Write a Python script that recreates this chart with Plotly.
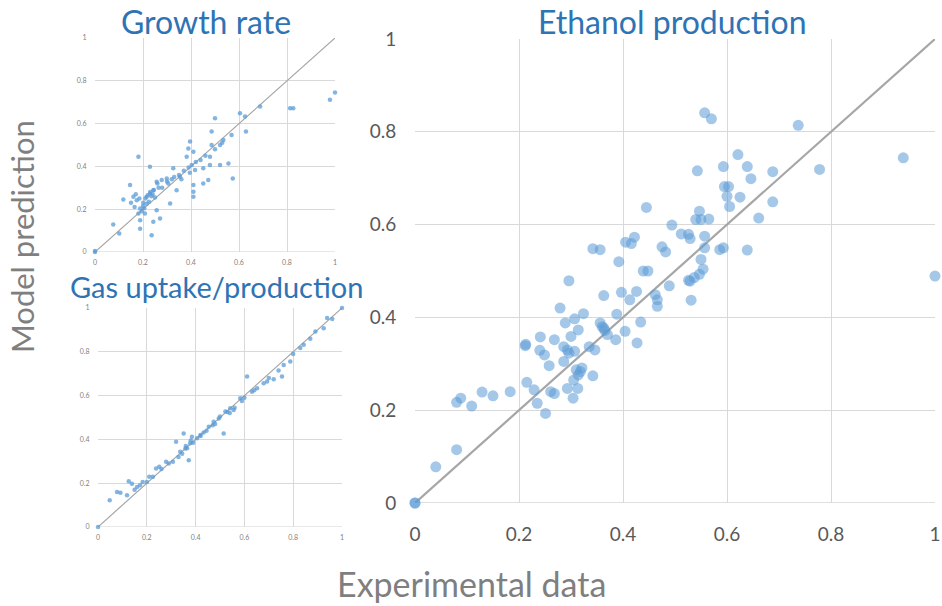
import plotly.graph_objects as go

# ---------------- data ----------------
eth_x = [0.557, 0.570, 0.737, 0.939, 0.621, 0.593, 0.639, 0.646, 0.688, 0.778, 0.543, 0.595,
         0.603, 0.600, 0.625, 0.605, 0.688, 0.661, 0.445, 0.547, 0.540, 0.550, 0.565, 0.494,
         0.512, 0.526, 0.529, 0.557, 0.422, 0.416, 0.405, 0.475, 0.482, 0.342, 0.356, 0.557,
         0.586, 0.593, 0.639, 0.392, 0.439, 0.448, 0.550, 0.554, 0.547, 0.537, 0.526, 0.296,
         0.489, 1.000, 0.363, 0.397, 0.426, 0.462, 0.529, 0.413, 0.466, 0.466, 0.531, 0.279,
         0.324, 0.307, 0.289, 0.314, 0.356, 0.363, 0.388, 0.404, 0.434, 0.427, 0.386, 0.370,
         0.241, 0.212, 0.268, 0.240, 0.249, 0.258, 0.293, 0.296, 0.307, 0.335, 0.346, 0.286,
         0.310, 0.314, 0.342, 0.321, 0.215, 0.229, 0.261, 0.268, 0.293, 0.313, 0.304, 0.183,
         0.129, 0.150, 0.088, 0.080, 0.109, 0.235, 0.251, 0.080, 0.040, 0.000, 0.000, 0.286,
         0.300, 0.360, 0.365, 0.318, 0.305, 0.213]
eth_y = [0.841, 0.828, 0.814, 0.744, 0.751, 0.725, 0.725, 0.699, 0.714, 0.719, 0.716, 0.682,
         0.682, 0.661, 0.659, 0.639, 0.649, 0.614, 0.637, 0.629, 0.611, 0.611, 0.612, 0.599,
         0.580, 0.579, 0.570, 0.575, 0.573, 0.559, 0.562, 0.552, 0.541, 0.548, 0.546, 0.550,
         0.546, 0.550, 0.545, 0.520, 0.500, 0.500, 0.525, 0.504, 0.493, 0.486, 0.480, 0.479,
         0.468, 0.489, 0.447, 0.454, 0.456, 0.449, 0.478, 0.438, 0.438, 0.424, 0.437, 0.420,
         0.408, 0.397, 0.388, 0.373, 0.388, 0.377, 0.407, 0.370, 0.390, 0.345, 0.352, 0.363,
         0.358, 0.339, 0.352, 0.329, 0.319, 0.296, 0.330, 0.323, 0.327, 0.337, 0.330, 0.305,
         0.287, 0.276, 0.274, 0.291, 0.260, 0.244, 0.240, 0.236, 0.247, 0.247, 0.226, 0.240,
         0.239, 0.231, 0.226, 0.217, 0.209, 0.215, 0.193, 0.115, 0.078, 0.000, 0.000, 0.337,
         0.359, 0.380, 0.372, 0.283, 0.265, 0.342]

gr_x = [0.000, 0.000, 0.076, 0.101, 0.118, 0.146, 0.181, 0.160, 0.174, 0.188, 0.181, 0.188,
        0.188, 0.208, 0.201, 0.215, 0.229, 0.229, 0.236, 0.243, 0.243, 0.257, 0.257, 0.271,
        0.278, 0.299, 0.313, 0.326, 0.340, 0.354, 0.382, 0.396, 0.389, 0.410, 0.403, 0.417,
        0.410, 0.410, 0.410, 0.451, 0.451, 0.472, 0.479, 0.479, 0.486, 0.486, 0.500, 0.521,
        0.521, 0.535, 0.556, 0.569, 0.574, 0.604, 0.625, 0.629, 0.688, 0.813, 0.826, 0.979,
        1.000, 0.200, 0.210, 0.220, 0.230, 0.240, 0.250, 0.195, 0.215, 0.225, 0.235, 0.245,
        0.205, 0.265, 0.280, 0.300, 0.320, 0.350, 0.370, 0.390, 0.395, 0.420, 0.440, 0.460,
        0.500, 0.530, 0.150, 0.165, 0.170, 0.185, 0.260, 0.305, 0.330, 0.360]
gr_y = [0.000, 0.005, 0.128, 0.086, 0.245, 0.313, 0.445, 0.258, 0.242, 0.203, 0.180, 0.148,
        0.109, 0.180, 0.230, 0.258, 0.273, 0.398, 0.078, 0.141, 0.289, 0.328, 0.195, 0.156,
        0.336, 0.344, 0.227, 0.391, 0.289, 0.352, 0.445, 0.516, 0.484, 0.469, 0.406, 0.383,
        0.313, 0.281, 0.258, 0.391, 0.320, 0.336, 0.445, 0.406, 0.500, 0.563, 0.625, 0.406,
        0.500, 0.523, 0.414, 0.547, 0.344, 0.648, 0.633, 0.563, 0.680, 0.672, 0.672, 0.711,
        0.745, 0.215, 0.250, 0.265, 0.280, 0.270, 0.255, 0.190, 0.225, 0.235, 0.260, 0.290,
        0.205, 0.300, 0.300, 0.330, 0.340, 0.360, 0.380, 0.395, 0.370, 0.420, 0.430, 0.450,
        0.480, 0.510, 0.230, 0.210, 0.270, 0.250, 0.320, 0.320, 0.350, 0.340]

gas_x = [0.000, 0.048, 0.078, 0.092, 0.119, 0.126, 0.139, 0.160, 0.172, 0.183, 0.210, 0.238,
         0.251, 0.279, 0.307, 0.320, 0.351, 0.337, 0.358, 0.372, 0.378, 0.385, 0.406, 0.433,
         0.454, 0.474, 0.495, 0.515, 0.522, 0.542, 0.556, 0.583, 0.611, 0.631, 0.652, 0.679,
         0.693, 0.720, 0.761, 0.754, 0.788, 0.829, 0.843, 0.891, 0.925, 0.939, 1.000, 0.150,
         0.200, 0.225, 0.260, 0.290, 0.330, 0.345, 0.365, 0.390, 0.420, 0.445, 0.470, 0.500,
         0.530, 0.560, 0.600, 0.640, 0.700, 0.740, 0.800, 0.870, 0.960, 0.360, 0.380, 0.420,
         0.480, 0.540, 0.590]
gas_y = [0.000, 0.122, 0.160, 0.156, 0.145, 0.209, 0.198, 0.183, 0.191, 0.206, 0.229, 0.267,
         0.275, 0.298, 0.298, 0.389, 0.427, 0.344, 0.359, 0.305, 0.382, 0.412, 0.405, 0.431,
         0.458, 0.481, 0.496, 0.427, 0.527, 0.542, 0.534, 0.588, 0.687, 0.618, 0.634, 0.656,
         0.664, 0.675, 0.740, 0.687, 0.756, 0.817, 0.832, 0.893, 0.908, 0.954, 1.000, 0.170,
         0.205, 0.230, 0.265, 0.290, 0.320, 0.335, 0.360, 0.385, 0.420, 0.440, 0.465, 0.505,
         0.525, 0.545, 0.590, 0.625, 0.680, 0.715, 0.790, 0.860, 0.950, 0.370, 0.395, 0.415,
         0.470, 0.520, 0.575]

diag = [0, 1]
tick_vals = [0, 0.2, 0.4, 0.6, 0.8, 1]
tick_text = ["0", "0.2", "0.4", "0.6", "0.8", "1"]

titles = ["Growth rate", "Gas uptake/production", "Ethanol production"]
x_label = "Experimental data"
y_label = "Model prediction"

# ---------------- styles ----------------
BLUE = "#5B9BD5"
TITLE_BLUE = "#2E74B5"
GRID = "#D9D9D9"
TICKC = "#7F7F7F"
FONT = "Lato, 'Open Sans', sans-serif"

fig = go.Figure()

def add_panel(xs, ys, xa, ya, msize, mop, lw):
    fig.add_trace(go.Scatter(x=diag, y=diag, mode="lines", xaxis=xa, yaxis=ya,
                             line=dict(color="#A6A6A6", width=lw), hoverinfo="skip",
                             showlegend=False))
    fig.add_trace(go.Scatter(x=xs, y=ys, mode="markers", xaxis=xa, yaxis=ya,
                             marker=dict(color=BLUE, size=msize, opacity=mop, line=dict(width=0)),
                             cliponaxis=False, showlegend=False))

add_panel(gr_x, gr_y, "x", "y", 4.5, 0.75, 1.2)
add_panel(gas_x, gas_y, "x2", "y2", 4.5, 0.75, 1.2)
add_panel(eth_x, eth_y, "x3", "y3", 11, 0.55, 2.2)

def axis(domain, anchor, fsize, ticklen, big):
    return dict(domain=domain, anchor=anchor, range=[0, 1], tickvals=tick_vals, ticktext=tick_text,
                showgrid=True, gridcolor=GRID, gridwidth=1, zeroline=False, automargin=False,
                showline=False, ticks="outside", ticklen=ticklen, tickcolor="rgba(0,0,0,0)",
                tickfont=dict(family=FONT, size=fsize, color=TICKC if not big else "#595959"),
                fixedrange=True, mirror=False)

W, H = 942, 606
def px_x(a, b):
    return [a / W, b / W]
def px_y(top, bottom):
    return [1 - bottom / H, 1 - top / H]

fig.update_layout(
    width=W, height=H,
    margin=dict(l=0, r=0, t=0, b=0, autoexpand=False),
    paper_bgcolor="white", plot_bgcolor="white",
    showlegend=False,
    xaxis=axis(px_x(95, 335), "y", 7, 4, False),
    yaxis=axis(px_y(38, 252), "x", 7, 6, False),
    xaxis2=axis(px_x(98, 342), "y2", 7, 4, False),
    yaxis2=axis(px_y(308, 527), "x2", 7, 6, False),
    xaxis3=axis(px_x(415, 935), "y3", 19, 14, True),
    yaxis3=axis(px_y(39, 503), "x3", 19, 14, True),
)

fig.update_layout(shapes=[
    dict(type="line", xref="x3", yref="y3", x0=0, x1=1, y0=0, y1=0,
         line=dict(color="#BFBFBF", width=1.2), layer="below"),
    dict(type="line", xref="x", yref="y", x0=0, x1=1, y0=0, y1=0,
         line=dict(color="#D0D0D0", width=1), layer="below"),
    dict(type="line", xref="x2", yref="y2", x0=0, x1=1, y0=0, y1=0,
         line=dict(color="#D0D0D0", width=1), layer="below"),
])

TS = 32
ann = []
ann.append(dict(text=titles[0], x=206 / W, y=1, xref="paper", yref="paper",
                showarrow=False, font=dict(family=FONT, size=TS, color=TITLE_BLUE),
                xanchor="center", yanchor="top"))
ann.append(dict(text=titles[1], x=216 / W, y=1 - 286 / H, xref="paper", yref="paper",
                showarrow=False, font=dict(family=FONT, size=29, color=TITLE_BLUE),
                xanchor="center", yanchor="middle", borderpad=0))
ann.append(dict(text=titles[2], x=672 / W, y=1, xref="paper", yref="paper",
                showarrow=False, font=dict(family=FONT, size=TS, color=TITLE_BLUE),
                xanchor="center", yanchor="top"))
ann.append(dict(text=x_label, x=471 / W, y=1 - 583 / H, xref="paper", yref="paper",
                showarrow=False, font=dict(family=FONT, size=34, color="#7F7F7F"),
                xanchor="center", yanchor="middle"))
ann.append(dict(text=y_label, x=22 / W, y=1 - 237 / H, xref="paper", yref="paper",
                showarrow=False, textangle=-90, font=dict(family=FONT, size=31, color="#7F7F7F"),
                xanchor="center", yanchor="middle"))
fig.update_layout(annotations=ann)

fig.write_html("out.html")
